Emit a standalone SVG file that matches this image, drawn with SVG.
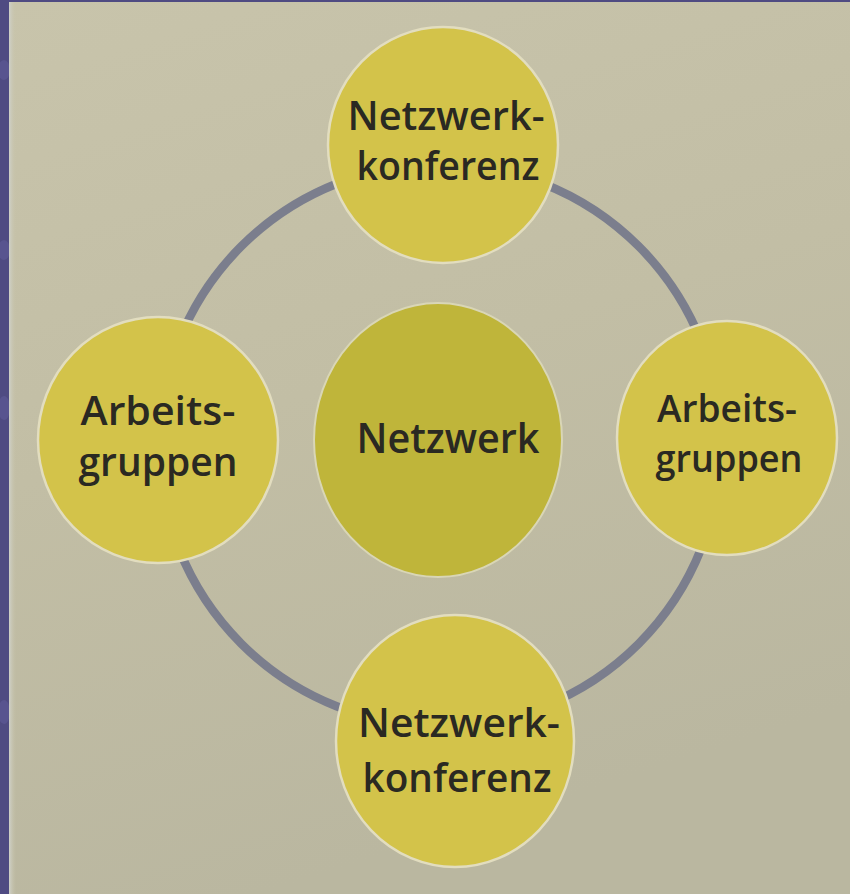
<svg xmlns="http://www.w3.org/2000/svg" width="850" height="894" viewBox="0 0 850 894">
  <style>
    .node { fill: #d3c34a; stroke: #e2ddbf; stroke-width: 2.5; }
    .hub { fill: #bfb53a; stroke: #d9d6b6; stroke-width: 2; }
    .label { font-family: "Open Sans", "Noto Sans", "DejaVu Sans", sans-serif; font-weight: 600; fill: #2a2922; text-anchor: middle; }
    .ring { fill: none; stroke: #7b7e8d; stroke-width: 8.5; }
  </style>
  <defs>
    <linearGradient id="paper" x1="0" y1="0" x2="0.3" y2="1">
      <stop offset="0" stop-color="#c8c4ab"/>
      <stop offset="0.5" stop-color="#c2bea5"/>
      <stop offset="1" stop-color="#bab7a0"/>
    </linearGradient>
    <linearGradient id="edge" x1="0" y1="0" x2="1" y2="0">
      <stop offset="0" stop-color="#cfd1c9"/>
      <stop offset="1" stop-color="#c8c4ab" stop-opacity="0"/>
    </linearGradient>
  </defs>

  <!-- backdrop and sheet -->
  <rect x="0" y="0" width="850" height="894" fill="#4f4b82"/>
  <g fill="#625e9c" opacity="0.5">
    <ellipse cx="4" cy="70" rx="6" ry="10"/>
    <ellipse cx="4" cy="250" rx="6" ry="10"/>
    <ellipse cx="4" cy="408" rx="6" ry="12"/>
    <ellipse cx="4" cy="712" rx="6" ry="12"/>
  </g>
  <rect x="9" y="2" width="841" height="892" fill="url(#paper)"/>
  <rect x="9" y="2" width="7" height="892" fill="url(#edge)"/>

  <!-- connecting ring -->
  <g id="connectors">
    <circle class="ring" cx="440" cy="445" r="281"/>
  </g>

  <g id="node-top">
    <ellipse class="node" cx="443" cy="145" rx="115" ry="118"/>
    <text class="label" x="446" y="130" font-size="39" textLength="197" lengthAdjust="spacingAndGlyphs">Netzwerk-</text>
    <text class="label" x="448" y="180" font-size="39" textLength="183" lengthAdjust="spacingAndGlyphs">konferenz</text>
  </g>

  <g id="node-left">
    <ellipse class="node" cx="158" cy="440" rx="120" ry="123"/>
    <text class="label" x="158" y="425" font-size="40" textLength="155" lengthAdjust="spacingAndGlyphs">Arbeits-</text>
    <text class="label" x="158" y="476" font-size="40" textLength="159" lengthAdjust="spacingAndGlyphs">gruppen</text>
  </g>

  <g id="node-right">
    <ellipse class="node" cx="727" cy="438" rx="110" ry="117"/>
    <text class="label" x="727" y="422" font-size="38" textLength="140" lengthAdjust="spacingAndGlyphs">Arbeits-</text>
    <text class="label" x="729" y="472" font-size="38" textLength="147" lengthAdjust="spacingAndGlyphs">gruppen</text>
  </g>

  <g id="node-bottom">
    <ellipse class="node" cx="455" cy="741" rx="119" ry="126"/>
    <text class="label" x="459" y="737" font-size="40" textLength="202" lengthAdjust="spacingAndGlyphs">Netzwerk-</text>
    <text class="label" x="457" y="792" font-size="40" textLength="189" lengthAdjust="spacingAndGlyphs">konferenz</text>
  </g>

  <g id="node-center">
    <ellipse class="hub" cx="438" cy="440" rx="124" ry="137"/>
    <text class="label" x="448" y="453" font-size="42" textLength="183" lengthAdjust="spacingAndGlyphs">Netzwerk</text>
  </g>
</svg>
